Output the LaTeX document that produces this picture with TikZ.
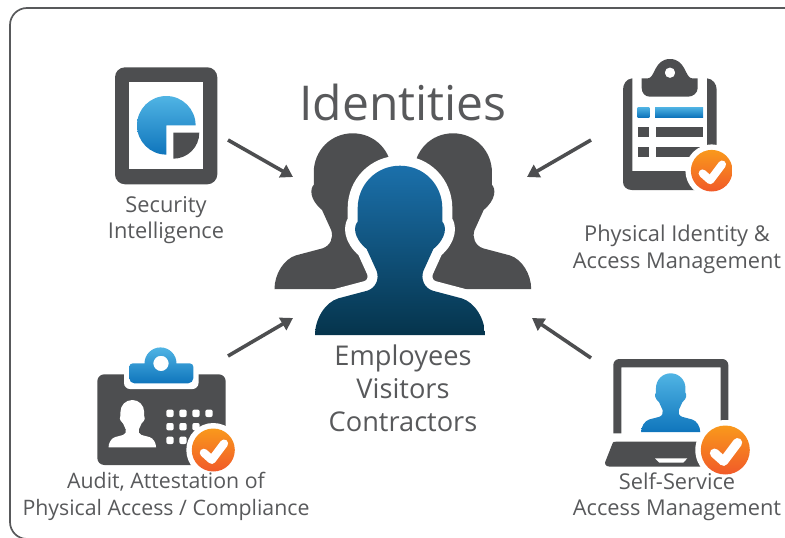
\documentclass[tikz,border=0pt]{standalone}
\usepackage{fontspec}
\setmainfont{Open Sans}
\usetikzlibrary{arrows.meta}
\definecolor{ink}{HTML}{4D4E50}
\definecolor{txt}{HTML}{58595B}
\definecolor{lblue}{HTML}{50B4E4}
\definecolor{mblue}{HTML}{0F75BC}
\definecolor{dtop}{HTML}{1B70AB}
\definecolor{dbot}{HTML}{05344C}
\definecolor{otop}{HTML}{F9991C}
\definecolor{obot}{HTML}{F15A29}
\def\personshape{(0,0) .. controls (72,0) and (127,57) .. (127,128) -- (127,168)
 .. controls (139,180) and (142,215) .. (100,250) -- (70,316)
 .. controls (62,340) and (72,366) .. (98,375) -- (185,398)
 .. controls (225,410) and (255,460) .. (255,508) -- (-255,508)
 .. controls (-255,460) and (-225,410) .. (-185,398) -- (-98,375)
 .. controls (-72,366) and (-62,340) .. (-70,316) -- (-100,250)
 .. controls (-142,215) and (-139,180) .. (-127,168) -- (-127,128)
 .. controls (-127,57) and (-72,0) .. (0,0) -- cycle}
\tikzset{
 connector/.style={draw=ink,line width=3.6pt,-{Triangle[length=12pt,width=14pt]}},
 label/.style={text=txt,font=\fontsize{21.8}{26.5}\selectfont,align=center,inner sep=0pt},
 solid ink/.style={fill=ink,draw=none},
 lgrad/.style={top color=lblue,bottom color=mblue,draw=none},
 dgrad/.style={top color=dtop,bottom color=dbot,draw=none},
 ograd/.style={top color=otop,bottom color=obot,draw=none},
 tick/.style={draw=white,line width=7pt,line cap=round,line join=round},
 pics/checkbadge/.style={code={
   \fill[white] (0,0) circle[radius=#1+5.5pt];
   \shade[ograd] (0,0) circle[radius=#1];
   \draw[tick,line width=#1*0.38] (-0.44*#1,-0.13*#1) -- (-0.07*#1,-0.46*#1) -- (0.5*#1,0.3*#1);
 }}
}
\begin{document}
\begin{tikzpicture}[x=1pt,y=1pt,yscale=-1]
\useasboundingbox (0,0) rectangle (785,538);
\clip (0,0) rectangle (785,538);
% frame
\draw[draw=txt,line width=1.7pt] (786,8) -- (27,8) arc[start angle=270,end angle=180,radius=17pt] -- (10,522) arc[start angle=180,end angle=90,radius=17pt] -- (40,539);

% central people
\begin{scope}[shift={(352.7,133.3)},scale=.3067]
 \path[solid ink] \personshape;
\end{scope}
\begin{scope}[shift={(453,133.3)},scale=.3067]
 \path[solid ink] \personshape;
\end{scope}
\begin{scope}[shift={(400,165.7)},scale=.3333]
 \draw[draw=white,fill=white,line width=20pt,line join=round] \personshape;
 \shade[dgrad] \personshape;
\end{scope}

% icon: security intelligence
\draw[fill=ink,draw=none,rounded corners=10pt] (115,67.3) rectangle (217.3,184.3);
\fill[white] (129.3,82) rectangle (202.7,169.3);
\shade[lgrad] (195.6,125.3) -- (166.3,125.3) -- (166.3,154.6) arc[start angle=90,end angle=360,radius=29.3pt] -- cycle;
\path[solid ink] (173.3,132.7) -- (199.3,132.7) arc[start angle=0,end angle=90,radius=26pt] -- cycle;

% icon: clipboard
\path[solid ink] (632.3,78.3) .. controls (626,79) and (623,84) .. (623,90) -- (623,182) .. controls (623,187) and (627,190) .. (632,190) -- (708,190) .. controls (713,190) and (716.7,187) .. (716.7,182) -- (716.7,90) .. controls (716.7,84) and (713,79) .. (707,78.3) -- (707,171) -- (632.3,171) -- cycle;
\path[solid ink,even odd rule] (641.7,78.3) -- (648,78.3) .. controls (655,78.3) and (654,59) .. (670,59) .. controls (686,59) and (685,78.3) .. (692,78.3) -- (697.7,78.3) -- (697.7,88) .. controls (697.7,93) and (693,96.7) .. (688,96.7) -- (650,96.7) .. controls (645,96.7) and (641.7,93) .. (641.7,88) -- cycle (675.3,72.7) arc[start angle=0,end angle=360,radius=5.3pt];
\shade[lgrad] (637.7,107) rectangle (649.3,117);
\shade[lgrad] (655,107) rectangle (703,117);
\path[solid ink] (637.7,127) rectangle (649.3,137);
\path[solid ink] (656,127) rectangle (703,137);
\path[solid ink] (637.7,147) rectangle (649.3,157);
\path[solid ink] (656,147) rectangle (703,157);
\pic at (711.7,170.7) {checkbadge=20.8pt};

% icon: badge
\draw[fill=ink,draw=none,rounded corners=7pt] (97.3,374.3) rectangle (225.7,465);
\fill[white,rounded corners=6pt] (124,355) rectangle (198.5,389);
\shade[lgrad,even odd rule] (129.3,366.7) arc[start angle=180,end angle=270,radius=3.3pt] -- (144.5,363.4) arc[start angle=180,end angle=360,radius=16pt] -- (190,363.4) arc[start angle=270,end angle=360,radius=3.3pt] -- (193.3,378.3) arc[start angle=0,end angle=90,radius=5pt] -- (134.3,383.3) arc[start angle=90,end angle=180,radius=5pt] -- cycle (168.7,363.4) arc[start angle=0,end angle=360,radius=7.7pt];
\begin{scope}[shift={(132.3,400)},scale=.0932]
 \fill[white] \personshape;
\end{scope}
\foreach \dx/\dy in {170/413.3,183/413.3,196/413.3,209/413.3,170/426.7,183/426.7,196/426.7,170/440.3,183/440.3}
 \fill[white,rounded corners=2pt] (\dx-3.7,\dy-3.7) rectangle (\dx+3.7,\dy+3.7);
\pic at (213.3,450) {checkbadge=21.5pt};

% icon: laptop
\path[solid ink] (613.3,433.3) -- (613.3,365) arc[start angle=180,end angle=270,radius=6pt] -- (722.3,359) arc[start angle=270,end angle=360,radius=6pt] -- (728.3,433.3) -- (720.7,433.3) -- (720.7,367.3) -- (621.3,367.3) -- (621.3,433.3) -- cycle;
\path[solid ink] (616,441.7) -- (728,441.7) -- (743,466.7) -- (610,466.7) .. controls (605,466.7) and (604,463) .. (606,460) -- (612.7,443) .. controls (613,442) and (614,441.7) .. (616,441.7) -- cycle;
\fill[white] (655,458.3) -- (687.3,458.3) -- (683.3,462.7) -- (659.3,462.7) -- cycle;
\begin{scope}[shift={(670.7,373.3)},scale=.116]
 \shade[lgrad] \personshape;
\end{scope}
\pic at (725.3,450) {checkbadge=24.5pt};

% connectors
\coordinate (secOut) at (228,140);
\coordinate (secIn) at (293,177);
\coordinate (phyOut) at (591,140);
\coordinate (phyIn) at (527,177);
\coordinate (audOut) at (228,356);
\coordinate (audIn) at (293,318);
\coordinate (selfOut) at (591,358);
\coordinate (selfIn) at (532,318);
\draw[connector] (secOut) -- (secIn);
\draw[connector] (phyOut) -- (phyIn);
\draw[connector] (audOut) -- (audIn);
\draw[connector] (selfOut) -- (selfIn);

% labels
\node[label,font=\fontsize{48}{52}\selectfont] (title) at (403,102) {Identities};
\node[label] (sec) at (166,220) {Security\\Intelligence};
\node[label] (phy) at (677,249.5) {Physical Identity \&\\Access Management};
\node[label,font=\fontsize{21.3}{26.5}\selectfont] (aud) at (166,496.5) {Audit, Attestation of\\Physical Access / Compliance};
\node[label] (self) at (677,497) {Self-Service\\Access Management};
\node[label,font=\fontsize{27.2}{33}\selectfont] (who) at (403,388) {Employees\\Visitors\\Contractors};
\end{tikzpicture}
\end{document}
